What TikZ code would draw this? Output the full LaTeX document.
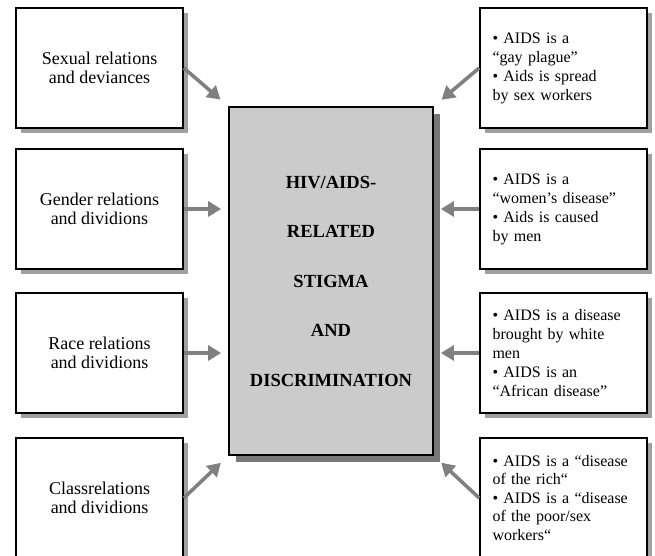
\documentclass[tikz,border=0pt]{standalone}
\usepackage{fontspec}
\setmainfont{Liberation Serif}
\usepackage{tikz}
\usetikzlibrary{arrows.meta,calc,shadows}
\definecolor{hubCol}{HTML}{CBCBCB}
\definecolor{arrCol}{HTML}{808080}
\definecolor{shdCol}{HTML}{A0A0A0}
\definecolor{hubShd}{HTML}{787878}
\tikzset{
  cause/.style={draw, line width=1.6pt, fill=white, minimum width=167pt, minimum height=120pt,
                align=center, font=\fontsize{18}{19.5}\selectfont,
                drop shadow={shadow xshift=5pt, shadow yshift=-5pt, fill=shdCol, opacity=1}},
  belief/.style={cause, align=left, text width=142pt, inner xsep=12.5pt,
                 font=\fontsize{16}{19}\selectfont},   % stereotype boxes on the right
  hub/.style={draw, line width=1.8pt, fill=hubCol, minimum width=204pt, minimum height=348pt,
              align=center, font=\fontsize{18.5}{49.5}\selectfont\bfseries,
              drop shadow={shadow xshift=7pt, shadow yshift=-7pt, fill=hubShd, opacity=1}},
  feed/.style={-{Triangle[length=13pt,width=15pt]}, line width=3.6pt, arrCol},
}

\begin{document}
\begin{tikzpicture}[x=1pt,y=-1pt]
  \clip[use as bounding box] (0,0) rectangle (655,556);
  % centre
  \node[hub] (hub) at (331,281) {HIV/AIDS-\\RELATED\\STIGMA\\AND\\DISCRIMINATION};

  % relations (left)
  \node[cause] (sex)    at (99.5,68)  {Sexual relations\\and deviances};
  \node[cause] (gender) at (99.5,209) {Gender relations\\and dividions};
  \node[cause] (race)   at (99.5,353) {Race relations\\and dividions};
  \node[cause] (class)  at (99.5,498) {Classrelations\\and dividions};

  % beliefs (right)
  \node[belief] (gay)   at (563.5,68)  {\textbullet{} AIDS is a\\“gay plague”\\\textbullet{} Aids is spread\\by sex workers};
  \node[belief] (women) at (563.5,209) {\textbullet{} AIDS is a\\“women’s disease”\\\textbullet{} Aids is caused\\by men};
  \node[belief] (white) at (563.5,353) {\textbullet{} AIDS is a disease\\brought by white\\men\\\textbullet{} AIDS is an\\“African disease”};
  \node[belief, font=\fontsize{16}{18.5}\selectfont] (rich) at (563.5,498)
    {\textbullet{} AIDS is a “disease\\of the rich“\\\textbullet{} AIDS is a “disease\\of the poor/sex\\workers“};

  % arrows into the centre
  \draw[feed, shorten >=10pt] (sex.east) -- (hub.north west);
  \draw[feed, shorten >=7pt] (gender.east) -- (gender.east -| hub.west);
  \draw[feed, shorten >=7pt] (race.east) -- (race.east -| hub.west);
  \draw[feed, shorten >=10pt] (class.east) -- (hub.south west);
  \draw[feed, shorten >=10pt] (gay.west) -- (hub.north east);
  \draw[feed, shorten >=7pt] (women.west) -- (women.west -| hub.east);
  \draw[feed, shorten >=7pt] (white.west) -- (white.west -| hub.east);
  \draw[feed, shorten >=10pt] (rich.west) -- (hub.south east);
\end{tikzpicture}
\end{document}
